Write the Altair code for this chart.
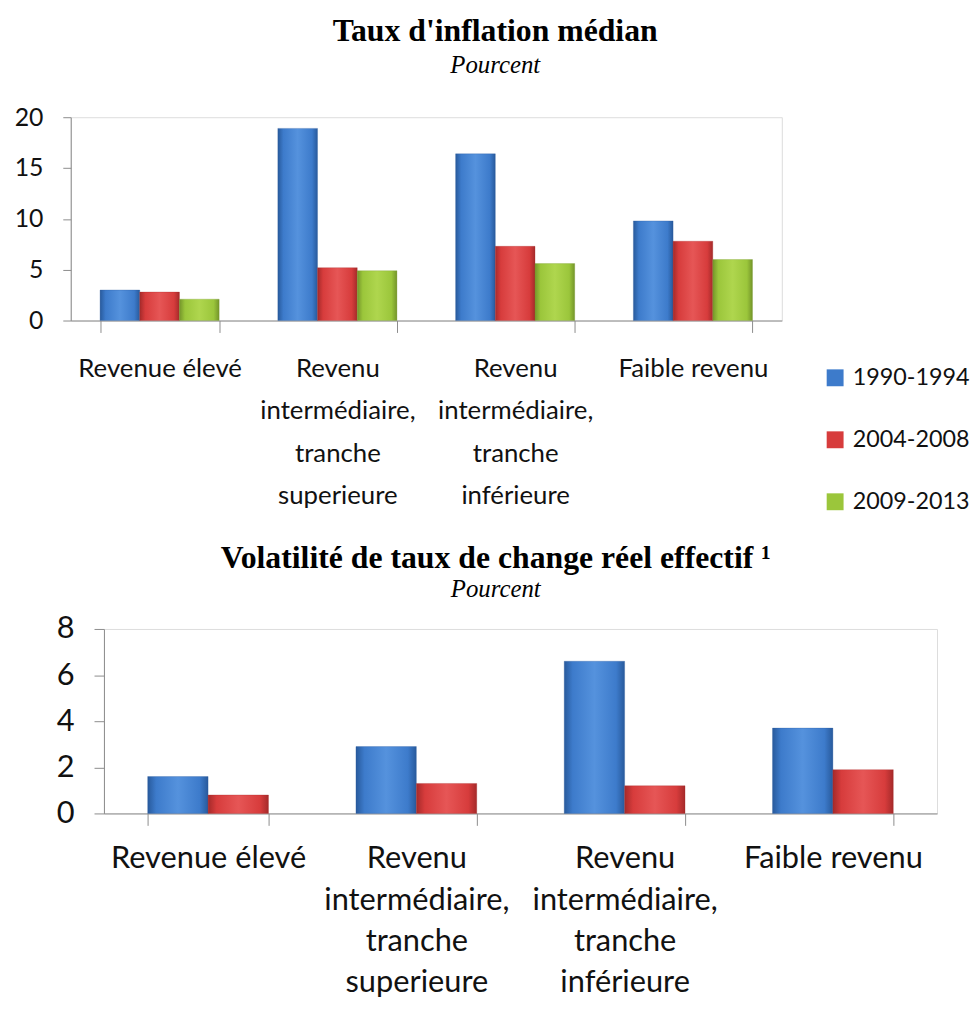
import altair as alt
import pandas as pd

# ---------------- data ----------------
categories = [
    "Revenue élevé",
    "Revenu|intermédiaire,|tranche|superieure",
    "Revenu|intermédiaire,|tranche|inférieure",
    "Faible revenu",
]
periods = ["1990-1994", "2004-2008", "2009-2013"]
inflation_1990_1994 = [3.0, 18.9, 16.4, 9.8]
inflation_2004_2008 = [2.8, 5.2, 7.3, 7.8]
inflation_2009_2013 = [2.1, 4.9, 5.6, 6.0]
volatility_1990_1994 = [1.6, 2.9, 6.6, 3.7]
volatility_2004_2008 = [0.8, 1.3, 1.2, 1.9]
inflation_ticks = [0, 5, 10, 15, 20]
volatility_ticks = [0, 2, 4, 6, 8]
colors = ["#3D7BCB", "#D73C3C", "#9BC63B"]
edge_colors = ["#285A9C", "#A52A2A", "#74952A"]
light_colors = ["#5592DD", "#E65656", "#AFD64E"]

title_top = "Taux d'inflation médian"
title_bottom = "Volatilité de taux de change réel effectif ¹"
subtitle = "Pourcent"

# ---------------- tables ----------------
rows_infl = []
for p, vals in zip(periods, [inflation_1990_1994, inflation_2004_2008, inflation_2009_2013]):
    for c, v in zip(categories, vals):
        rows_infl.append({"cat": c, "period": p, "value": v})
df_infl = pd.DataFrame(rows_infl)

vol_periods = periods[:2]
rows_vol = []
for p, vals in zip(vol_periods, [volatility_1990_1994, volatility_2004_2008]):
    for c, v in zip(categories, vals):
        rows_vol.append({"cat": c, "period": p, "value": v})
df_vol = pd.DataFrame(rows_vol)

SANS = "Lato, Open Sans, sans-serif"
SERIF = "Liberation Serif, Times New Roman, serif"
AX = "#8C8C8C"
TXT = "#111111"


def bevel(i):
    return alt.LinearGradient(
        gradient="linear", x1=0, x2=1, y1=0, y2=0,
        stops=[
            alt.GradientStop(color=edge_colors[i], offset=0),
            alt.GradientStop(color=colors[i], offset=0.14),
            alt.GradientStop(color=light_colors[i], offset=0.5),
            alt.GradientStop(color=colors[i], offset=0.86),
            alt.GradientStop(color=edge_colors[i], offset=1),
        ],
    )


def panel(df, series, ticks, ymax, width, height, pad_inner,
          x_font, x_line, x_pad, y_font, y_tick, y_pad, y_extra,
          legend, title_params):
    x_enc = alt.X(
        "cat:N", sort=categories,
        scale=alt.Scale(paddingInner=pad_inner, paddingOuter=pad_inner / 2),
        axis=alt.Axis(
            title=None, labelAngle=0, labelExpr="split(datum.label, '|')",
            labelFont=SANS, labelFontSize=x_font, labelLineHeight=x_line, labelColor=TXT,
            tickBand="extent", tickSize=12, tickColor=AX, domainColor=AX,
            labelPadding=x_pad, labelLimit=400,
        ),
    )
    xo_enc = alt.XOffset("period:N", sort=series,
                         scale=alt.Scale(domain=series, paddingInner=0, paddingOuter=0))
    y_axis_args = dict(
        values=ticks, grid=False,
        labelFont=SANS, labelFontSize=y_font, labelColor=TXT,
        tickSize=y_tick, tickColor=AX, domainColor=AX, labelPadding=y_pad,
    )
    if y_extra:
        y_axis_args.update(title=" ", titleFontSize=1, titlePadding=y_extra,
                           titleColor="#FFFFFF")
    else:
        y_axis_args.update(title=None)
    y_enc = alt.Y(
        "value:Q", scale=alt.Scale(domain=[0, ymax], nice=False),
        axis=alt.Axis(**y_axis_args),
    )
    base = alt.Chart(df).encode(x=x_enc, xOffset=xo_enc, y=y_enc)
    key = base.mark_bar(opacity=0).encode(
        color=alt.Color("period:N",
                        scale=alt.Scale(domain=series, range=colors[:len(series)]),
                        legend=legend)
    )
    layers = [key]
    for i, p in enumerate(series):
        layers.append(
            base.transform_filter(alt.datum.period == p).mark_bar(
                color=bevel(i), stroke=edge_colors[i], strokeWidth=0.5, strokeOpacity=0.6
            )
        )
    return alt.layer(*layers).properties(width=width, height=height, title=title_params)


def title(text, sub_pad, offset, dx):
    return alt.TitleParams(
        text=text, subtitle=subtitle,
        font=SERIF, fontSize=32, fontWeight="bold", color="#000",
        subtitleFont=SERIF, subtitleFontSize=25, subtitleFontStyle="italic",
        subtitleColor="#000", subtitlePadding=sub_pad,
        anchor="middle", frame="bounds", offset=offset, dx=dx,
    )


top_legend = alt.Legend(
    title=" ", titleFontSize=10, titlePadding=241, orient="right", offset=42,
    symbolType="square", symbolSize=290, symbolStrokeWidth=0, symbolOpacity=1,
    labelFont=SANS, labelFontSize=23.5, labelColor=TXT,
    rowPadding=37.5, labelOffset=6, padding=0,
)

top = panel(df_infl, periods, inflation_ticks, 20, 717, 205, 0.33,
            x_font=26, x_line=43, x_pad=23, y_font=25, y_tick=8, y_pad=20, y_extra=0,
            legend=top_legend, title_params=title(title_top, 5, 27, 3))

bottom = panel(df_vol, vol_periods, volatility_ticks, 8, 840, 186, 0.42,
               x_font=31, x_line=41.5, x_pad=19, y_font=31, y_tick=10, y_pad=20, y_extra=27,
               legend=None, title_params=title(title_bottom, 2, 10, 13))

chart = alt.vconcat(top, bottom, spacing=27, center=True).resolve_scale(
    color="independent", xOffset="independent", x="independent", y="independent"
).properties(
    padding={"top": 2, "left": 5, "right": 0, "bottom": 0}
).configure_view(stroke=None).configure(background="white")

chart.save("out.html", embed_options={"renderer": "svg", "actions": False})
